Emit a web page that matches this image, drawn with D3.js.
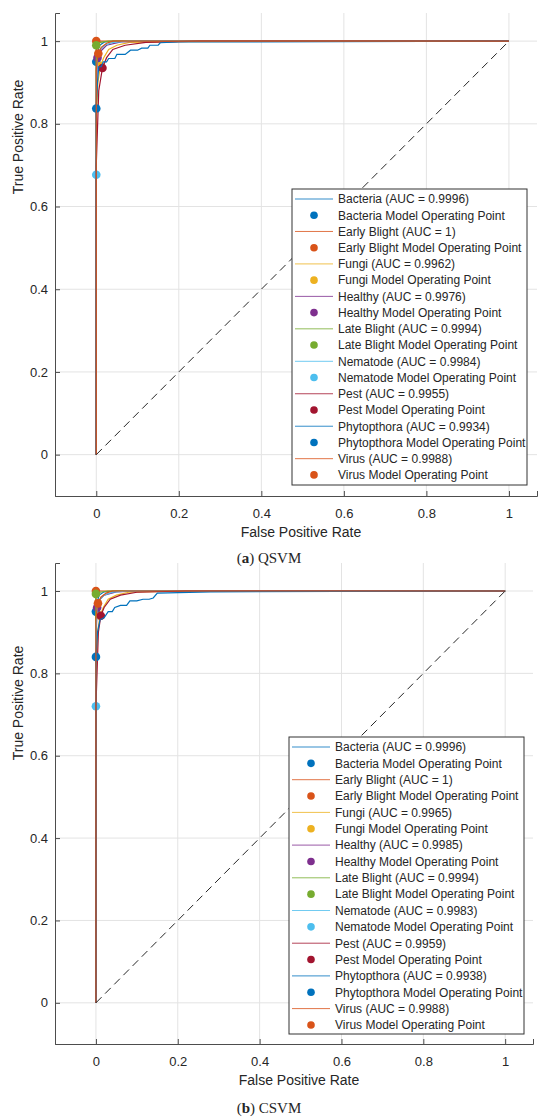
<!DOCTYPE html>
<html>
<head>
<meta charset="utf-8">
<script src="https://cdn.jsdelivr.net/npm/d3@7"></script>
<style>
  body { margin: 0; background: #fff; }
  text { font-family: "Liberation Sans", Arial, sans-serif; fill: #262626; }
</style>
</head>
<body>
<div id="chart"></div>
<script>
"use strict";

const classes = ["Bacteria", "Early Blight", "Fungi", "Healthy", "Late Blight",
  "Nematode", "Pest", "Phytopthora", "Virus"];

const aucQSVM = [0.9996, 1, 0.9962, 0.9976, 0.9994, 0.9984, 0.9955, 0.9934, 0.9988];
const aucCSVM = [0.9996, 1, 0.9965, 0.9985, 0.9994, 0.9983, 0.9959, 0.9938, 0.9988];

// operating points [FPR, TPR]
const opQSVM = [[0, 0.95], [0, 1], [0.01, 0.94], [0.003, 0.96], [0, 0.99],
  [0, 0.677], [0.015, 0.935], [0, 0.837], [0.005, 0.97]];
const opCSVM = [[0, 0.95], [0, 1], [0.01, 0.94], [0.003, 0.96], [0, 0.993],
  [0, 0.72], [0.012, 0.94], [0, 0.84], [0.005, 0.97]];

// ROC curves [FPR, TPR]
const rocQSVM = [
  [[0, 0], [0, 0.9], [0, 0.95], [0.002, 0.97], [0.008, 0.99], [0.02, 0.998], [0.05, 1], [1, 1]],
  [[0, 0], [0, 1], [1, 1]],
  [[0, 0], [0, 0.8], [0.004, 0.9], [0.01, 0.94], [0.018, 0.96], [0.03, 0.98], [0.05, 0.99], [0.08, 0.997], [0.2, 0.999], [1, 1]],
  [[0, 0], [0, 0.85], [0.003, 0.96], [0.01, 0.975], [0.025, 0.99], [0.06, 0.998], [0.12, 1], [1, 1]],
  [[0, 0], [0, 0.97], [0, 0.99], [0.01, 0.997], [0.03, 1], [1, 1]],
  [[0, 0], [0, 0.677], [0, 0.9], [0.003, 0.96], [0.01, 0.98], [0.02, 0.99], [0.04, 0.997], [0.08, 1], [1, 1]],
  [[0, 0], [0, 0.7], [0.006, 0.88], [0.015, 0.935], [0.025, 0.96], [0.04, 0.98], [0.07, 0.99], [0.12, 0.997], [0.25, 1], [1, 1]],
  [[0, 0], [0, 0.837], [0.003, 0.9], [0.006, 0.938], [0.012, 0.938], [0.017, 0.95], [0.025, 0.95],
    [0.03, 0.958], [0.045, 0.958], [0.05, 0.968], [0.07, 0.968], [0.083, 0.978], [0.1, 0.978],
    [0.11, 0.983], [0.125, 0.983], [0.13, 0.99], [0.15, 0.99], [0.155, 0.996], [0.2, 0.998], [0.37, 0.998], [1, 1]],
  [[0, 0], [0, 0.93], [0.003, 0.96], [0.005, 0.97], [0.012, 0.985], [0.025, 0.995], [0.04, 1], [1, 1]]
];
const rocCSVM = [
  [[0, 0], [0, 0.9], [0, 0.95], [0.002, 0.97], [0.008, 0.99], [0.02, 0.998], [0.05, 1], [1, 1]],
  [[0, 0], [0, 1], [1, 1]],
  [[0, 0], [0, 0.8], [0.004, 0.9], [0.01, 0.94], [0.018, 0.96], [0.03, 0.98], [0.05, 0.99], [0.08, 0.997], [0.18, 0.999], [1, 1]],
  [[0, 0], [0, 0.88], [0.003, 0.96], [0.01, 0.98], [0.02, 0.99], [0.05, 0.998], [0.1, 1], [1, 1]],
  [[0, 0], [0, 0.97], [0, 0.993], [0.01, 0.997], [0.03, 1], [1, 1]],
  [[0, 0], [0, 0.72], [0, 0.9], [0.003, 0.96], [0.01, 0.98], [0.02, 0.99], [0.04, 0.997], [0.08, 1], [1, 1]],
  [[0, 0], [0, 0.72], [0.006, 0.9], [0.012, 0.94], [0.02, 0.96], [0.035, 0.98], [0.06, 0.99], [0.1, 0.997], [0.22, 1], [1, 1]],
  [[0, 0], [0, 0.84], [0.004, 0.9], [0.01, 0.93], [0.02, 0.935], [0.03, 0.95], [0.04, 0.95],
    [0.046, 0.96], [0.06, 0.965], [0.075, 0.965], [0.083, 0.976], [0.1, 0.976], [0.115, 0.98],
    [0.13, 0.98], [0.14, 0.983], [0.15, 0.995], [0.28, 0.998], [1, 1]],
  [[0, 0], [0, 0.93], [0.003, 0.96], [0.005, 0.97], [0.012, 0.985], [0.025, 0.995], [0.04, 1], [1, 1]]
];

const xTicks = [0, 0.2, 0.4, 0.6, 0.8, 1];
const yTicks = [0, 0.2, 0.4, 0.6, 0.8, 1];

const palette = ["#0072BD", "#D95319", "#EDB120", "#7E2F8E", "#77AC30",
  "#4DBEEE", "#A2142F", "#0072BD", "#D95319"];

const svg = d3.select("#chart").append("svg")
  .attr("width", 550)
  .attr("height", 1117);

function drawPanel(p) {
  const x = d3.scaleLinear().domain([-0.1, 1.068]).range([55, p.right]);
  const y = d3.scaleLinear().domain([-0.1, 1.068]).range([p.bottom, p.top]);
  const g = svg.append("g");

  // grid
  g.selectAll(".gx").data(xTicks).enter().append("line")
    .attr("x1", d => x(d)).attr("x2", d => x(d))
    .attr("y1", p.bottom).attr("y2", p.top)
    .attr("stroke", "#e3e3e3");
  g.selectAll(".gy").data(yTicks).enter().append("line")
    .attr("y1", d => y(d)).attr("y2", d => y(d))
    .attr("x1", 55).attr("x2", p.right)
    .attr("stroke", "#e3e3e3");

  const xAxis = d3.axisBottom(x).tickValues(xTicks).tickSize(-5).tickPadding(13)
    .tickFormat(d3.format(""));
  const yAxis = d3.axisLeft(y).tickValues(yTicks).tickSize(-5).tickPadding(7)
    .tickFormat(d3.format(""));

  const gx = g.append("g").attr("transform", `translate(0, ${p.bottom})`).call(xAxis);
  const gy = g.append("g").attr("transform", "translate(55, 0)").call(yAxis);
  [gx, gy].forEach(a => {
    a.select(".domain").attr("stroke", "#4d4d4d");
    a.selectAll(".tick line").attr("stroke", "#4d4d4d");
    a.selectAll("text").style("font-size", "13px")
      .style("font-family", "'Liberation Sans', Arial, sans-serif").attr("fill", "#262626");
  });

  const line = d3.line().x(d => x(d[0])).y(d => y(d[1]));

  classes.forEach((c, i) => {
    g.append("path")
      .datum(p.roc[i])
      .attr("d", line)
      .attr("fill", "none")
      .attr("stroke", palette[i])
      .attr("stroke-width", 1.2);
    g.append("circle")
      .attr("cx", x(p.op[i][0]))
      .attr("cy", y(p.op[i][1]))
      .attr("r", 4.3)
      .attr("fill", palette[i]);
  });

  g.append("path")
    .datum([[0, 0], [1, 1]])
    .attr("d", line)
    .attr("fill", "none")
    .attr("stroke", "#262626")
    .attr("stroke-width", 1)
    .attr("stroke-dasharray", "8,5");

  // axis labels
  g.append("text")
    .attr("x", (x(-0.1) + x(1.068)) / 2 + 5)
    .attr("y", p.bottom + 41)
    .attr("text-anchor", "middle")
    .style("font-size", "14px")
    .text("False Positive Rate");
  g.append("text")
    .attr("transform", `translate(23, ${p.ylabelY}) rotate(-90)`)
    .attr("text-anchor", "middle")
    .style("font-size", "14px")
    .text("True Positive Rate");

  // legend
  const lg = g.append("g");
  lg.append("rect")
    .attr("x", p.lx).attr("y", p.ly)
    .attr("width", p.lw).attr("height", p.lh)
    .attr("fill", "#fff")
    .attr("stroke", "#333")
    .attr("stroke-width", 1);
  classes.forEach((c, i) => {
    const r1 = p.ly + 10 + (2 * i) * p.step;
    const r2 = r1 + p.step;
    lg.append("line")
      .attr("x1", p.lx + 3).attr("x2", p.lx + 41)
      .attr("y1", r1).attr("y2", r1)
      .attr("stroke", palette[i]).attr("stroke-width", 1)
      .attr("stroke-opacity", 0.8);
    lg.append("text")
      .attr("x", p.lx + 46).attr("y", r1).attr("dy", "0.36em")
      .style("font-size", "12px")
      .text(`${c} (AUC = ${p.auc[i]})`);
    lg.append("circle")
      .attr("cx", p.lx + 22).attr("cy", r2).attr("r", 3.8)
      .attr("fill", palette[i]);
    lg.append("text")
      .attr("x", p.lx + 46).attr("y", r2).attr("dy", "0.36em")
      .style("font-size", "12px")
      .text(`${c} Model Operating Point`);
  });

  // caption
  const cap = svg.append("text")
    .attr("x", 269).attr("y", p.capY)
    .attr("text-anchor", "middle")
    .style("font-family", "'Liberation Serif', 'Times New Roman', serif")
    .style("font-size", "15px")
    .attr("fill", "#000");
  cap.append("tspan").text("(");
  cap.append("tspan").style("font-weight", "bold").text(p.tag);
  cap.append("tspan").text(") " + p.name);
}

drawPanel({
  top: 13, bottom: 496, right: 537, ylabelY: 137,
  roc: rocQSVM, op: opQSVM, auc: aucQSVM,
  lx: 292, ly: 189, lw: 235, lh: 296, step: 16.23,
  capY: 563, tag: "a", name: "QSVM"
});

drawPanel({
  top: 563, bottom: 1044, right: 533, ylabelY: 703,
  roc: rocCSVM, op: opCSVM, auc: aucCSVM,
  lx: 289, ly: 737, lw: 235, lh: 297, step: 16.35,
  capY: 1113, tag: "b", name: "CSVM"
});
</script>
</body>
</html>
